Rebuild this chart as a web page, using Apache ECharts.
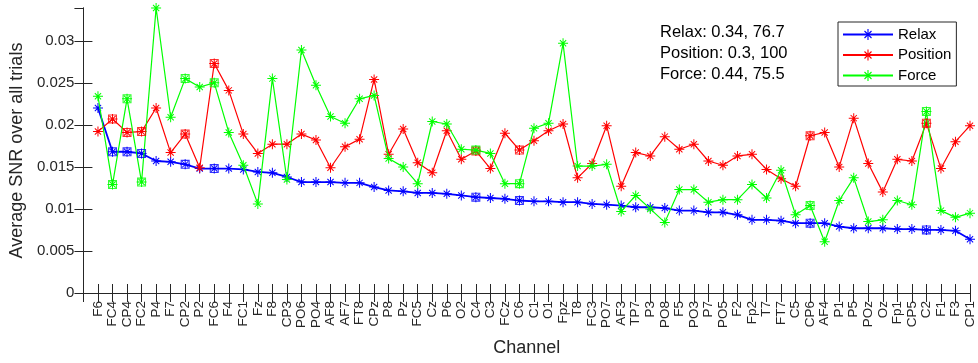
<!DOCTYPE html>
<html>
<head>
<meta charset="utf-8">
<style>
  html, body { margin: 0; padding: 0; background: #fff; }
  #chart { width: 978px; height: 363px; }
</style>
<script src="https://cdn.jsdelivr.net/npm/echarts@6/dist/echarts.min.js"></script>
</head>
<body>
<div id="chart"></div>
<script>
// EEG channels, sorted by descending Relax SNR
const channels = ['F6','FC4','CP4','FC2','P4','F7','CP2','P2','FC6','F4','FC1','Fz','F8','CP3','PO6','PO4','AF8','AF7','FT8','CPz','P8','Pz','FC5','Cz','P6','O2','C4','C3','FCz','C6','C1','O1','Fpz','T8','FC3','PO7','AF3','TP7','P3','PO8','F5','PO3','P7','PO5','F2','Fp2','T7','FT7','C5','CP6','AF4','P1','P5','POz','Oz','Fp1','CP5','C2','F1','F3','CP1'];

// Average SNR over all trials, per condition
const relax = [0.0220,0.0168,0.0168,0.0166,0.0157,0.0156,0.0153,0.0148,0.0148,0.0148,0.0147,0.0144,0.0143,0.0138,0.0132,0.0132,0.0132,0.0131,0.0131,0.0126,0.0122,0.0121,0.0119,0.0119,0.0118,0.0116,0.0114,0.0113,0.0112,0.0110,0.0109,0.0109,0.0108,0.0108,0.0106,0.0105,0.0104,0.0102,0.0102,0.0101,0.0098,0.0098,0.0096,0.0096,0.0093,0.0087,0.0087,0.0086,0.0083,0.0083,0.0083,0.0079,0.0077,0.0077,0.0077,0.0076,0.0076,0.0075,0.0075,0.0074,0.0064];
const position = [0.0192,0.0207,0.0191,0.0192,0.0220,0.0167,0.0189,0.0149,0.0273,0.0241,0.0189,0.0166,0.0177,0.0177,0.0189,0.0182,0.0149,0.0174,0.0183,0.0254,0.0165,0.0195,0.0155,0.0143,0.0193,0.0159,0.0169,0.0148,0.0190,0.0170,0.0181,0.0193,0.0201,0.0137,0.0154,0.0199,0.0127,0.0167,0.0163,0.0186,0.0171,0.0177,0.0157,0.0152,0.0163,0.0165,0.0147,0.0136,0.0127,0.0187,0.0191,0.0150,0.0208,0.0154,0.0120,0.0159,0.0157,0.0202,0.0148,0.0180,0.0199];
const force = [0.0234,0.0129,0.0231,0.0132,0.0339,0.0209,0.0255,0.0245,0.0250,0.0191,0.0152,0.0106,0.0255,0.0135,0.0289,0.0247,0.0210,0.0202,0.0231,0.0235,0.0160,0.0150,0.0130,0.0204,0.0201,0.0171,0.0170,0.0166,0.0130,0.0130,0.0196,0.0202,0.0297,0.0151,0.0151,0.0153,0.0097,0.0116,0.0100,0.0084,0.0123,0.0123,0.0108,0.0111,0.0111,0.0129,0.0113,0.0146,0.0093,0.0104,0.0061,0.0110,0.0137,0.0085,0.0087,0.0110,0.0105,0.0216,0.0098,0.0090,0.0095];

// Channels flagged with a square marker
const marked = ['FC4','CP4','FC2','CP2','FC6','C4','C6','CP6','C2'];

// Summary text lines
const notes = ['Relax: 0.34, 76.7', 'Position: 0.3, 100', 'Force: 0.44, 75.5'];

// y-axis range and tick step
const yMax = 0.0339;
const yStep = 0.005;

const FONT = '"Liberation Sans", Arial, Helvetica, sans-serif';
const INK = '#262626';

// Eight-spoke asterisk and a hollow square, as filled outlines
const STAR = 'path://M0 7.2L16 7.2L16 8.8L0 8.8Z M7.2 0L8.8 0L8.8 16L7.2 16Z ' +
  'M3.57 2.43L13.57 12.43L12.43 13.57L2.43 3.57Z M13.57 3.57L3.57 13.57L2.43 12.43L12.43 2.43Z';
const SQUARE = 'path://M0 0L16 0L16 16L0 16Z M2 2L2 14L14 14L14 2Z';

const toPoints = vals => vals.map((v, i) => [i + 1, v]);
const markedPoints = vals => marked.map(ch => {
  const i = channels.indexOf(ch);
  return [i + 1, vals[i]];
});

const conditions = [
  { name: 'Relax', values: relax, color: '#0000ff', width: 1.8 },
  { name: 'Position', values: position, color: '#ff0000', width: 1.2 },
  { name: 'Force', values: force, color: '#00ff00', width: 1.2 }
];

const series = [];
conditions.forEach((c, k) => {
  series.push({
    name: c.name,
    type: 'line',
    data: toPoints(c.values),
    symbol: STAR,
    symbolSize: 10,
    showAllSymbol: true,
    lineStyle: { color: c.color, width: c.width },
    itemStyle: { color: c.color },
    z: 2 + k
  });
});
conditions.forEach((c, k) => {
  series.push({
    name: c.name + ' flagged',
    type: 'scatter',
    data: markedPoints(c.values),
    symbol: SQUARE,
    symbolSize: 9,
    itemStyle: { color: c.color },
    z: 6 + k
  });
});

const tickStyle = { inside: true, length: 9, lineStyle: { color: INK, width: 1 } };
const lineStyle = { show: true, lineStyle: { color: INK, width: 1 } };

const chart = echarts.init(document.getElementById('chart'), null, { renderer: 'canvas' });
chart.setOption({
  animation: false,
  backgroundColor: '#fff',
  grid: { left: 83, right: 8, top: 8, bottom: 70, containLabel: false },
  xAxis: [
    {
      type: 'value', min: 0, max: channels.length, interval: 1, position: 'bottom',
      axisLine: lineStyle, axisTick: tickStyle, splitLine: { show: false },
      axisLabel: {
        rotate: 90, margin: 8, fontSize: 13.5, fontFamily: FONT, color: INK,
        showMinLabel: false,
        formatter: v => channels[v - 1] || ''
      },
      name: 'Channel', nameLocation: 'middle', nameGap: 46,
      nameTextStyle: { fontSize: 18, fontFamily: FONT, color: INK }
    },
    {
      type: 'value', min: 0, max: channels.length, interval: 1, position: 'top',
      axisLine: lineStyle, axisTick: tickStyle, splitLine: { show: false },
      axisLabel: { show: false }
    }
  ],
  yAxis: [
    {
      type: 'value', min: 0, max: yMax, interval: yStep, position: 'left',
      axisLine: lineStyle, axisTick: tickStyle, splitLine: { show: false },
      axisLabel: {
        margin: 9, fontSize: 15, fontFamily: FONT, color: INK, showMaxLabel: false,
        formatter: v => String(parseFloat(v.toFixed(4)))
      },
      name: 'Average SNR over all trials', nameLocation: 'middle', nameGap: 56,
      nameTextStyle: { fontSize: 18, fontFamily: FONT, color: INK }
    },
    {
      type: 'value', min: 0, max: yMax, interval: yStep, position: 'right',
      axisLine: lineStyle, axisTick: tickStyle, splitLine: { show: false },
      axisLabel: { show: false }
    }
  ],
  legend: {
    data: conditions.map(c => c.name),
    orient: 'vertical',
    left: 838, top: 22,
    padding: [5, 5, 3, 4],
    itemGap: 5.5,
    itemWidth: 50, itemHeight: 14,
    backgroundColor: '#fff',
    borderColor: INK, borderWidth: 1, borderRadius: 0,
    textStyle: { fontSize: 15, fontFamily: FONT, color: '#000' }
  },
  graphic: notes.map((t, i) => ({
    type: 'text',
    x: 660, y: 32 + i * 21,
    style: { text: t, fontSize: 16.5, fontFamily: FONT, fill: '#000', verticalAlign: 'middle' },
    z: 20
  })),
  series: series
});
</script>
</body>
</html>
